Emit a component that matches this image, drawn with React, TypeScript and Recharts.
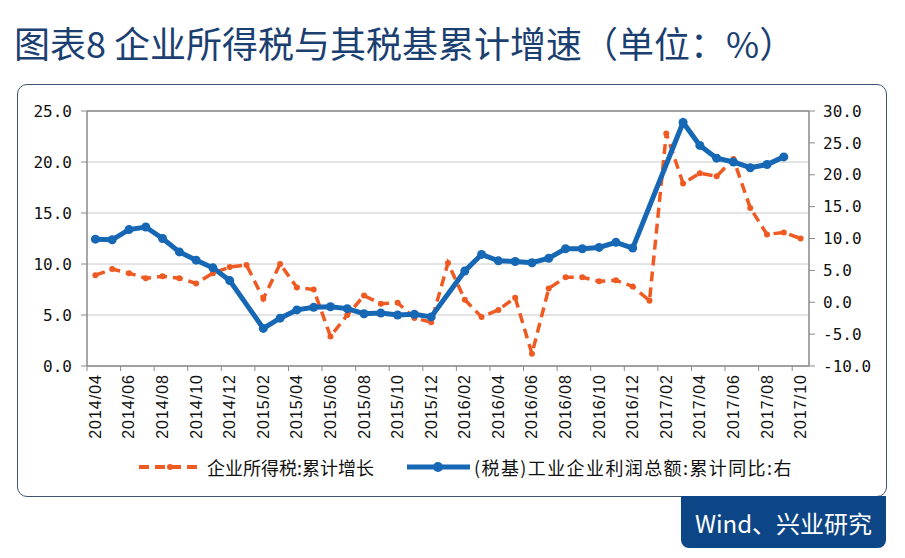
import { LineChart, Line, XAxis, YAxis, CartesianGrid, ReferenceLine } from 'recharts';

// 2014/04 - 2017/10, monthly
const months = [
  '2014/04', '2014/05', '2014/06', '2014/07', '2014/08', '2014/09', '2014/10', '2014/11', '2014/12',
  '2015/01', '2015/02', '2015/03', '2015/04', '2015/05', '2015/06', '2015/07', '2015/08', '2015/09',
  '2015/10', '2015/11', '2015/12',
  '2016/01', '2016/02', '2016/03', '2016/04', '2016/05', '2016/06', '2016/07', '2016/08', '2016/09',
  '2016/10', '2016/11', '2016/12',
  '2017/01', '2017/02', '2017/03', '2017/04', '2017/05', '2017/06', '2017/07', '2017/08', '2017/09',
  '2017/10',
];

// 企业所得税:累计增长 (left axis)
const taxGrowth = [
  8.9, 9.5, 9.1, 8.6, 8.8, 8.6, 8.1, 9.1, 9.7,
  9.9, 6.6, 10.0, 7.7, 7.5, 2.9, 5.0, 6.9, 6.1, 6.2, 4.7, 4.3,
  10.1, 6.5, 4.8, 5.5, 6.7, 1.2, 7.6, 8.7, 8.7, 8.3, 8.4, 7.8,
  6.4, 22.8, 17.9, 18.9, 18.6, 20.3, 15.5, 12.9, 13.1, 12.5,
];

// (税基)工业企业利润总额:累计同比 (right axis)
const profitGrowth = [
  9.9, 9.8, 11.4, 11.8, 10.0, 7.9, 6.6, 5.4, 3.4,
  null, -4.1, -2.5, -1.2, -0.8, -0.7, -1.0, -1.8, -1.7, -2.0, -1.9, -2.3,
  null, 4.9, 7.5, 6.5, 6.4, 6.2, 6.9, 8.4, 8.4, 8.6, 9.4, 8.5,
  null, null, 28.2, 24.6, 22.6, 22.0, 21.1, 21.6, 22.8, null,
];

const leftTicks = [0, 5, 10, 15, 20, 25];
const rightTicks = [-10, -5, 0, 5, 10, 15, 20, 25, 30];

const data = months.map((m, i) => ({ month: m, tax: taxGrowth[i], profit: profitGrowth[i] }));

const ORANGE = '#EF5A23';
const BLUE = '#1667B4';
const AXIS = '#8a8a8a';
const NAVY = '#1C3F72';

const PLOT_W = 722;
const HALF = PLOT_W / months.length / 2;

const MonthTick = (props: any) => {
  const { x, y, payload } = props;
  return (
    <g>
      <line x1={x - HALF} y1={y} x2={x - HALF} y2={y + 5} stroke={AXIS} />
      <text
        transform={`translate(${x},${y + 8}) rotate(-90)`}
        textAnchor="end"
        dominantBaseline="central"
        fontFamily="Liberation Sans"
        fontSize={16}
        letterSpacing={1}
        fill="#111"
      >
        {payload.value}
      </text>
    </g>
  );
};

const yTickStyle = { fontFamily: 'DejaVu Sans Mono', fontSize: 16, fill: '#111' };

const App = () => {
  return (
    <div style={{ position: 'absolute', left: 0, top: 0, width: 905, height: 558, background: '#fff', overflow: 'hidden' }}>
      <div
        style={{
          position: 'absolute', left: 14, top: 22, fontFamily: 'Noto Sans CJK SC', fontSize: 36,
          lineHeight: '40px', color: NAVY, whiteSpace: 'nowrap',
        }}
      >
        图表8 企业所得税与其税基累计增速（单位：%）
      </div>

      <div
        style={{
          position: 'absolute', left: 17, top: 84, width: 868, height: 411,
          border: '1px solid #3d5570', borderRadius: 10, background: '#fff',
        }}
      />

      <div style={{ position: 'absolute', left: 0, top: 0 }}>
        <LineChart width={905} height={558} data={data} margin={{ top: 111, right: 36, bottom: 112, left: 27 }}>
          <CartesianGrid yAxisId="left" vertical={false} stroke="#c8c8c8" />
          <XAxis
            dataKey="month"
            interval={1}
            padding={{ left: HALF, right: HALF }}
            height={80}
            tickSize={0}
            tickMargin={0}
            tickLine={false}
            axisLine={{ stroke: AXIS, strokeWidth: 1.5 }}
            tick={<MonthTick />}
          />
          <YAxis
            yAxisId="left"
            width={60}
            domain={[0, 25]}
            ticks={leftTicks}
            tickFormatter={(v: number) => v.toFixed(1)}
            tick={yTickStyle}
            tickSize={6}
            tickMargin={9}
            axisLine={{ stroke: AXIS, strokeWidth: 1.5 }}
            tickLine={{ stroke: AXIS }}
          />
          <YAxis
            yAxisId="right"
            orientation="right"
            width={60}
            domain={[-10, 30]}
            ticks={rightTicks}
            tickFormatter={(v: number) => v.toFixed(1)}
            tick={yTickStyle}
            tickSize={6}
            tickMargin={8}
            axisLine={{ stroke: AXIS, strokeWidth: 1.5 }}
            tickLine={{ stroke: AXIS }}
          />
          <ReferenceLine yAxisId="left" y={25} stroke={AXIS} strokeWidth={1.5} />
          <Line
            yAxisId="left"
            dataKey="tax"
            stroke={ORANGE}
            strokeWidth={3.5}
            strokeDasharray="10 6"
            dot={{ r: 3, fill: ORANGE, stroke: 'none' }}
            isAnimationActive={false}
          />
          <Line
            yAxisId="right"
            dataKey="profit"
            stroke={BLUE}
            strokeWidth={5}
            connectNulls
            dot={{ r: 4.5, fill: BLUE, stroke: 'none' }}
            isAnimationActive={false}
          />
        </LineChart>
      </div>

      <div
        style={{
          position: 'absolute', left: 137, top: 454, display: 'flex', alignItems: 'center',
          fontFamily: 'Noto Sans CJK SC', fontSize: 18, color: '#111', whiteSpace: 'nowrap',
        }}
      >
        <svg width={66} height={14}>
          <line x1={2} y1={7} x2={64} y2={7} stroke={ORANGE} strokeWidth={4} strokeDasharray="10 6" />
          <circle cx={33} cy={7} r={3} fill={ORANGE} />
        </svg>
        <span style={{ marginLeft: 4 }}>企业所得税:累计增长</span>
        <svg width={66} height={14} style={{ marginLeft: 32 }}>
          <line x1={1} y1={7} x2={64} y2={7} stroke={BLUE} strokeWidth={5} />
          <circle cx={32} cy={7} r={5} fill={BLUE} />
        </svg>
        <span style={{ marginLeft: 2, letterSpacing: 1.4 }}>(税基)工业企业利润总额:累计同比:右</span>
      </div>

      <div
        style={{
          position: 'absolute', left: 681, top: 496, width: 205, height: 52, background: '#0D4686',
          borderRadius: '0 0 8px 8px', color: '#fff', fontFamily: 'Noto Sans CJK SC', fontSize: 24,
          display: 'flex', alignItems: 'center', justifyContent: 'center',
        }}
      >
        Wind、兴业研究
      </div>
    </div>
  );
};

export default App;
